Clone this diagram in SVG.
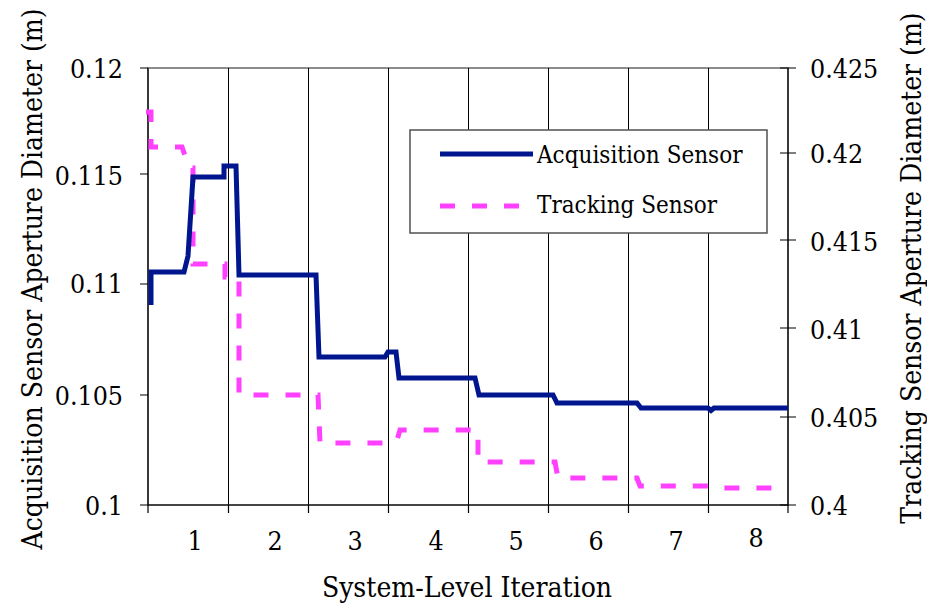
<svg xmlns="http://www.w3.org/2000/svg" width="927" height="610" viewBox="0 0 927 610">
  <style>
    text { font-family: "DejaVu Serif Condensed", "DejaVu Serif", serif; font-stretch: condensed; fill: #000; }
    .tick { font-size: 26.5px; }
    .title { font-size: 28px; }
    .legend { font-size: 24px; }
    .grid { stroke: #000; stroke-width: 1; }
    .axis { stroke: #000; stroke-width: 1.2; fill: none; }
    .frame { stroke: #8c8c8c; stroke-width: 2; fill: none; }
    .acq { stroke: #00168f; stroke-width: 5; fill: none; stroke-linejoin: miter; }
    .trk { stroke: #ff40ff; stroke-width: 5; fill: none; stroke-dasharray: 15 17; }
  </style>

  <rect width="927" height="610" fill="#fff"/>

  <!-- plot area frame -->
  <g id="plot-frame">
    <rect class="frame" x="148" y="68" width="640" height="437"/>
  </g>

  <!-- vertical gridlines at each iteration boundary -->
  <g id="gridlines">
    <line class="grid" x1="228.5" y1="68" x2="228.5" y2="505"/>
    <line class="grid" x1="308.5" y1="68" x2="308.5" y2="505"/>
    <line class="grid" x1="388.5" y1="68" x2="388.5" y2="505"/>
    <line class="grid" x1="468.5" y1="68" x2="468.5" y2="505"/>
    <line class="grid" x1="548.5" y1="68" x2="548.5" y2="505"/>
    <line class="grid" x1="628.5" y1="68" x2="628.5" y2="505"/>
    <line class="grid" x1="708.5" y1="68" x2="708.5" y2="505"/>
  </g>

  <!-- axes with tick marks -->
  <g id="axes">
    <line class="axis" x1="148" y1="68" x2="148" y2="505"/>
    <line class="axis" x1="788" y1="68" x2="788" y2="505"/>
    <line class="axis" x1="148" y1="505" x2="788" y2="505"/>
    <path class="axis" d="M140,68H148M140,174H148M140,284H148M140,395H148M140,505H148"/>
    <path class="axis" d="M780,68H796M780,153H796M780,240H796M780,328H796M780,417H796M780,505H796"/>
    <path class="axis" d="M148,505V513M228.5,505V513M308.5,505V513M388.5,505V513M468.5,505V513M548.5,505V513M628.5,505V513M708.5,505V513M788,505V513"/>
  </g>

  <!-- left axis values -->
  <g id="left-values" class="tick" text-anchor="end">
    <text x="123" y="78">0.12</text>
    <text x="123" y="185">0.115</text>
    <text x="123" y="293">0.11</text>
    <text x="123" y="405">0.105</text>
    <text x="123" y="515">0.1</text>
  </g>

  <!-- right axis values -->
  <g id="right-values" class="tick">
    <text x="810" y="77.5">0.425</text>
    <text x="810" y="163">0.42</text>
    <text x="810" y="251">0.415</text>
    <text x="810" y="339">0.41</text>
    <text x="810" y="427">0.405</text>
    <text x="810" y="515">0.4</text>
  </g>

  <!-- iteration numbers -->
  <g id="x-values" class="tick" text-anchor="middle">
    <text x="195" y="550">1</text>
    <text x="275" y="550">2</text>
    <text x="355" y="550">3</text>
    <text x="436" y="550">4</text>
    <text x="516" y="550">5</text>
    <text x="596" y="550">6</text>
    <text x="676" y="550">7</text>
    <text x="756" y="547">8</text>
  </g>

  <!-- axis titles -->
  <g id="axis-titles" class="title" text-anchor="middle">
    <text x="467" y="597">System-Level Iteration</text>
    <text transform="translate(42,279) rotate(-90)">Acquisition Sensor Aperture Diameter (m)</text>
    <text transform="translate(921,268) rotate(-90)">Tracking Sensor Aperture Diameter (m)</text>
  </g>

  <!-- data series -->
  <g id="series">
    <path id="tracking-sensor" class="trk" d="M146,112H151V147H182L188,164L190,168H193V264H225V277H239V395H318L320,443H385L397,440L400,430H478V462H555L558,478H637L640,486H710L715,488H788"/>
    <path id="acquisition-sensor" class="acq" d="M151,305V272H184L188,256L193,177H224V166H236L239,275H316L319,357H385L388,352H396L399,378H475L479,395H553L557,403H637L641,408H708L711,410.5L714,408H788"/>
  </g>

  <!-- legend -->
  <g id="legend">
    <rect x="410" y="130" width="357" height="103" fill="#fff" stroke="#505050" stroke-width="1.5"/>
    <line class="acq" x1="440" y1="154" x2="533" y2="154"/>
    <text class="legend" x="537" y="163">Acquisition Sensor</text>
    <line class="trk" x1="440" y1="206" x2="522" y2="206"/>
    <text class="legend" x="537" y="213">Tracking Sensor</text>
  </g>
</svg>
